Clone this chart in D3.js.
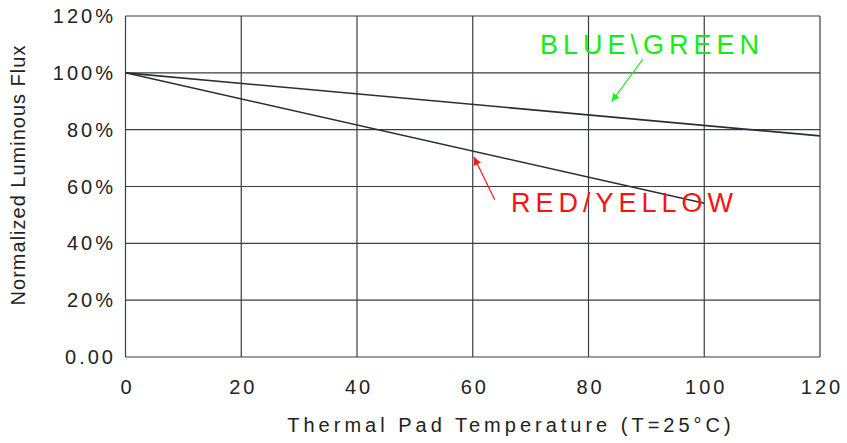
<!DOCTYPE html>
<html><head><meta charset="utf-8">
<script src="https://cdn.jsdelivr.net/npm/d3@7"></script>
<style>body{margin:0;background:#fff}svg{display:block}text{font-family:"Liberation Sans",Arial,sans-serif;fill:#222}</style>
</head><body>
<svg id="c" width="847" height="443"></svg>
<script>
const xTicks = [0, 20, 40, 60, 80, 100, 120];
const yTicks = [0, 20, 40, 60, 80, 100, 120];
const yTickLabels = ["0.00", "20%", "40%", "60%", "80%", "100%", "120%"];
const blueGreenT = [0, 120];
const blueGreenV = [100, 77.8];
const redYellowT = [0, 100];
const redYellowV = [100, 54.1];
// annotation arrows: [tailT, tailV, headT, headV]
const greenArrow = [89.4, 104.8, 84.0, 89.9];
const redArrow = [63.8, 55.3, 60.2, 70.4];

const svg = d3.select("#c");
const m = {l:125.5, r:820, t:16, b:357};
const x = d3.scaleLinear().domain([0,120]).range([m.l, m.r]);
const y = d3.scaleLinear().domain([0,120]).range([m.b, m.t]);

const defs = svg.append("defs");
function marker(id, col){
  defs.append("marker").attr("id", id).attr("viewBox","0 0 10 10").attr("refX",10).attr("refY",5)
    .attr("markerWidth",12).attr("markerHeight",8).attr("markerUnits","userSpaceOnUse").attr("orient","auto")
    .append("path").attr("d","M0,0 L10,5 L0,10 Z").attr("fill",col);
}
marker("ag","#22ee22"); marker("ar","#ff1a1a");

// grid
svg.append("g").selectAll("line").data(xTicks).join("line")
  .attr("x1",d=>x(d)).attr("x2",d=>x(d)).attr("y1",m.t).attr("y2",m.b)
  .attr("stroke","#3a3d44").attr("stroke-width",1.2);
svg.append("g").selectAll("line").data(yTicks).join("line")
  .attr("x1",m.l).attr("x2",m.r).attr("y1",d=>y(d)).attr("y2",d=>y(d))
  .attr("stroke","#3a3d44").attr("stroke-width",1.2);

// tick labels
svg.append("g").selectAll("text").data(yTicks).join("text")
  .attr("x",116).attr("y",d=>y(d)+7).attr("text-anchor","end")
  .attr("font-size",20).attr("letter-spacing",3).text((d,i)=>yTickLabels[i]);
svg.append("g").selectAll("text").data(xTicks).join("text")
  .attr("x",d=>x(d)+2).attr("y",394).attr("text-anchor","middle")
  .attr("font-size",20).attr("letter-spacing",3).text(d=>d);

svg.append("text").attr("x",511).attr("y",432).attr("text-anchor","middle")
  .attr("font-size",20).attr("letter-spacing",4).text("Thermal Pad Temperature (T=25°C)");
svg.append("text").attr("transform","translate(25,175) rotate(-90)").attr("text-anchor","middle")
  .attr("font-size",20).attr("letter-spacing",1).text("Normalized Luminous Flux");

// lines
const line = d3.line().x(d=>x(d[0])).y(d=>y(d[1]));
svg.append("path").datum(blueGreenT.map((t,i)=>[t,blueGreenV[i]])).attr("d",line)
  .attr("fill","none").attr("stroke","#2a2d35").attr("stroke-width",1.6);
svg.append("path").datum(redYellowT.map((t,i)=>[t,redYellowV[i]])).attr("d",line)
  .attr("fill","none").attr("stroke","#2a2d35").attr("stroke-width",1.6);

// annotations
svg.append("line").attr("x1",x(greenArrow[0])).attr("y1",y(greenArrow[1])).attr("x2",x(greenArrow[2])).attr("y2",y(greenArrow[3]))
  .attr("stroke","#22ee22").attr("stroke-width",1.2).attr("marker-end","url(#ag)");
svg.append("line").attr("x1",x(redArrow[0])).attr("y1",y(redArrow[1])).attr("x2",x(redArrow[2])).attr("y2",y(redArrow[3]))
  .attr("stroke","#ff1a1a").attr("stroke-width",1.2).attr("marker-end","url(#ar)");
svg.append("text").attr("x",540).attr("y",54).attr("font-size",27).attr("letter-spacing",5)
  .style("fill","#11ee11").text("BLUE\\GREEN");
svg.append("text").attr("x",511).attr("y",212).attr("font-size",27).attr("letter-spacing",5)
  .style("fill","#ff1111").text("RED/YELLOW");
</script>
</body></html>
